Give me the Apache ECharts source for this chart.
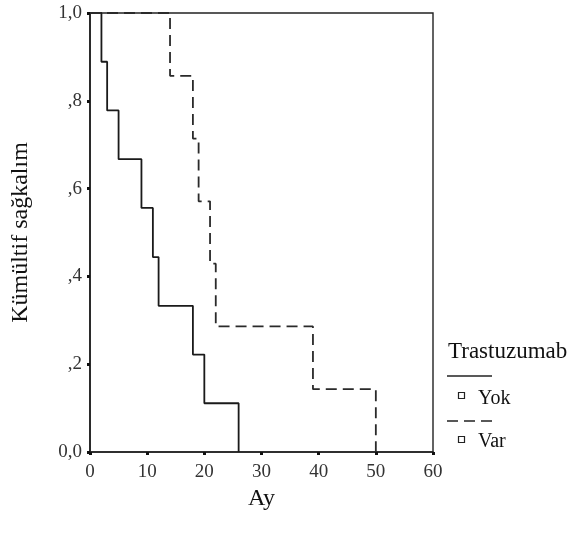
<!DOCTYPE html>
<html>
<head>
<meta charset="utf-8">
<script src="https://cdn.jsdelivr.net/npm/echarts@6/dist/echarts.min.js"></script>
<style>
  html, body { margin: 0; padding: 0; background: #fff; }
  #main { width: 573px; height: 546px; }
</style>
</head>
<body>
<div id="main"></div>
<script>
// Kaplan-Meier verileri (okunan degerler)
var yokAy = [0, 2, 3, 5, 9, 11, 12, 18, 20, 26];
var yokSag = [1.0, 0.889, 0.778, 0.667, 0.556, 0.444, 0.333, 0.222, 0.111, 0.0];
var varAy = [0, 14, 18, 19, 21, 22, 39, 50];
var varSag = [1.0, 0.857, 0.714, 0.571, 0.429, 0.286, 0.143, 0.0];
var yEtiket = {'0': '0,0', '0.2': ',2', '0.4': ',4', '0.6': ',6', '0.8': ',8', '1': '1,0'};

function ciftler(xs, ys) {
    var out = [];
    for (var i = 0; i < xs.length; i++) out.push([xs[i], ys[i]]);
    return out;
}

var font = 'Liberation Serif';
var myChart = echarts.init(document.getElementById('main'));

var option = {
    backgroundColor: '#fff',
    animation: false,
    grid: {
        left: 90, right: 140, top: 13, bottom: 94,
        show: true, borderColor: '#222', borderWidth: 1.4
    },
    xAxis: {
        type: 'value',
        min: 0, max: 60, interval: 10,
        name: 'Ay',
        nameLocation: 'middle',
        nameGap: 33,
        nameTextStyle: { fontFamily: font, fontSize: 24, color: '#111' },
        axisLine: { show: true, onZero: false, lineStyle: { color: '#222', width: 1.7 } },
        axisTick: { show: true, length: 3, lineStyle: { color: '#111', width: 3 } },
        axisLabel: { fontFamily: font, fontSize: 19, color: '#333', margin: 11 },
        splitLine: { show: false }
    },
    yAxis: {
        type: 'value',
        min: 0, max: 1, interval: 0.2,
        name: 'Kümültif sağkalım',
        nameLocation: 'middle',
        nameGap: 57,
        nameTextStyle: { fontFamily: font, fontSize: 24, color: '#111' },
        axisLine: { show: true, onZero: false, lineStyle: { color: '#222', width: 1.7 } },
        axisTick: { show: true, length: 3, lineStyle: { color: '#111', width: 3 } },
        axisLabel: {
            fontFamily: font, fontSize: 19, color: '#333', margin: 8,
            formatter: function (v) { return yEtiket[String(Math.round(v * 10) / 10)]; }
        },
        splitLine: { show: false }
    },
    series: [{
        name: 'Yok',
        type: 'line',
        step: 'end',
        symbol: 'none',
        lineStyle: { color: '#1a1a1a', width: 1.8 },
        data: ciftler(yokAy, yokSag)
    }, {
        name: 'Var',
        type: 'line',
        step: 'end',
        symbol: 'none',
        lineStyle: { color: '#2a2a2a', width: 1.8, type: [11, 6] },
        data: ciftler(varAy, varSag)
    }],
    graphic: [
        { type: 'text', left: 448, top: 340, style: { text: 'Trastuzumab', font: '23px "Liberation Serif"', fill: '#111' } },
        { type: 'line', shape: { x1: 447, y1: 376, x2: 492, y2: 376 }, style: { stroke: '#222', lineWidth: 1.4 } },
        { type: 'rect', shape: { x: 458.5, y: 392.5, width: 6, height: 6 }, style: { fill: '#fff', stroke: '#222', lineWidth: 1.2 } },
        { type: 'text', left: 478, top: 389, style: { text: 'Yok', font: '20px "Liberation Serif"', fill: '#111' } },
        { type: 'line', shape: { x1: 447, y1: 421, x2: 492, y2: 421 }, style: { stroke: '#222', lineWidth: 1.4, lineDash: [11, 6] } },
        { type: 'rect', shape: { x: 458.5, y: 436.5, width: 6, height: 6 }, style: { fill: '#fff', stroke: '#222', lineWidth: 1.2 } },
        { type: 'text', left: 478, top: 432, style: { text: 'Var', font: '20px "Liberation Serif"', fill: '#111' } }
    ]
};
myChart.setOption(option);
</script>
</body>
</html>
